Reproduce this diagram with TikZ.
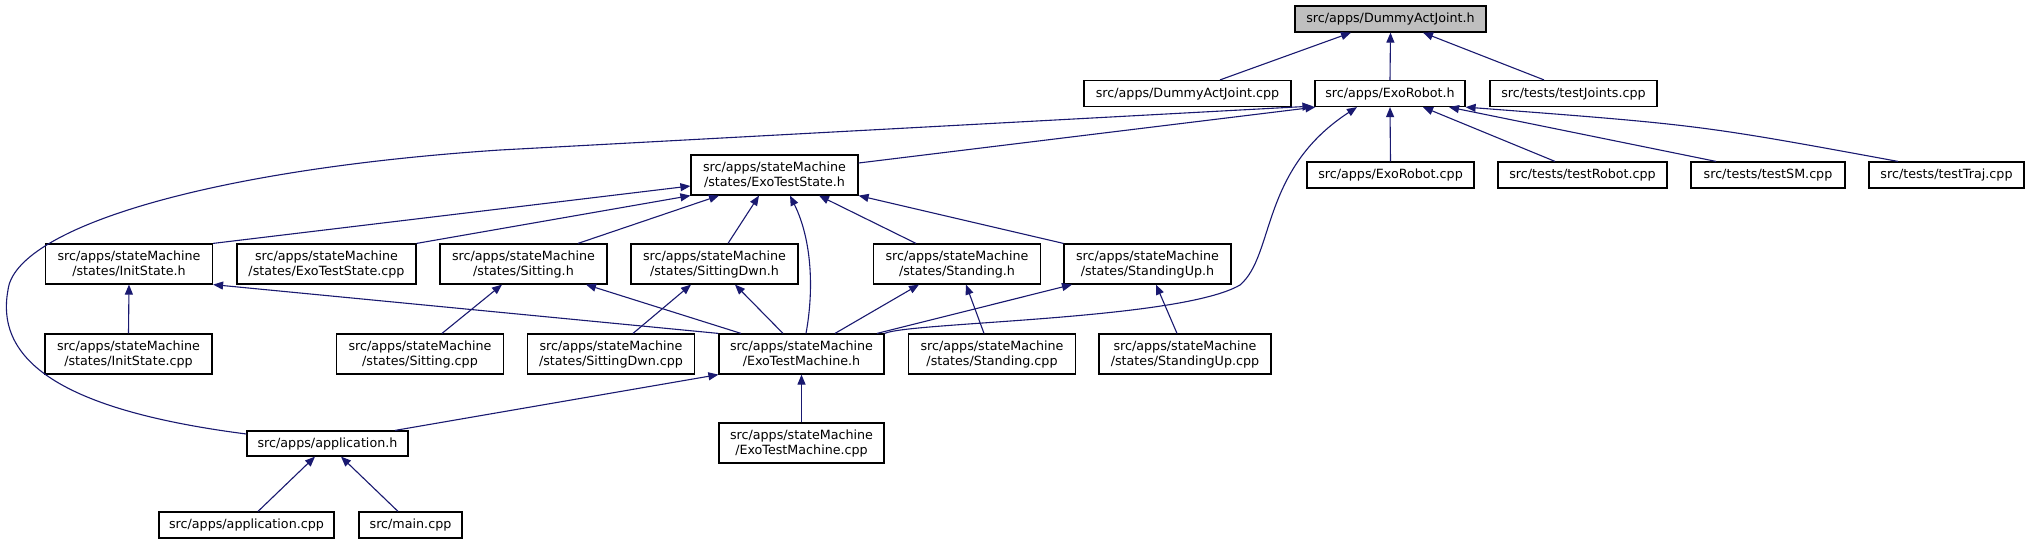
\documentclass[tikz,border=0pt]{standalone}
\usepackage{fontspec}
\setmainfont{DejaVu Sans}
\usetikzlibrary{arrows.meta}
\definecolor{edgeblue}{RGB}{25,25,112}
\definecolor{rootgray}{RGB}{191,191,191}
\begin{document}
\begin{tikzpicture}[x=1pt,y=-1pt,
  box/.style={draw=black, line width=1.2pt, fill=white, rectangle, inner sep=0pt,
    minimum height=26pt, minimum width=#1, align=center,
    font=\fontsize{12.7}{15}\selectfont},
  box/.default=167pt,
  boxtwo/.style={box=#1, minimum height=40pt},
  boxtwo/.default=167pt,
  edge/.style={draw=edgeblue, line width=1.1pt, -{Triangle[length=10pt,width=8pt]}}]
\useasboundingbox[fill=white] (0,0) rectangle (2029,544);

% nodes
\node[box=191pt, fill=rootgray] (dh) at (1390.5,19) {src/apps/DummyActJoint.h};
\node[box=207pt] (dcpp) at (1187.5,93.5) {src/apps/DummyActJoint.cpp};
\node[box=150pt] (er) at (1390,93.5) {src/apps/ExoRobot.h};
\node[box=167pt] (tj) at (1573.5,93.5) {src/tests/testJoints.cpp};
\node[boxtwo] (ets) at (774.5,175) {src/apps/stateMachine\\/states/ExoTestState.h};
\node[box=167pt] (ercpp) at (1390.5,175) {src/apps/ExoRobot.cpp};
\node[box=169pt] (tr) at (1582.5,175) {src/tests/testRobot.cpp};
\node[box=154pt] (tsm) at (1768,175) {src/tests/testSM.cpp};
\node[box=155pt] (tt) at (1946.5,175) {src/tests/testTraj.cpp};

\node[boxtwo] (ish) at (129,264) {src/apps/stateMachine\\/states/InitState.h};
\node[boxtwo=179pt] (etscpp) at (326.5,264) {src/apps/stateMachine\\/states/ExoTestState.cpp};
\node[boxtwo] (sh) at (523.5,264) {src/apps/stateMachine\\/states/Sitting.h};
\node[boxtwo] (sdh) at (714.5,264) {src/apps/stateMachine\\/states/SittingDwn.h};
\node[boxtwo] (stdh) at (957,264) {src/apps/stateMachine\\/states/Standing.h};
\node[boxtwo] (suh) at (1147.5,264) {src/apps/stateMachine\\/states/StandingUp.h};

\node[boxtwo] (iscpp) at (128.5,354) {src/apps/stateMachine\\/states/InitState.cpp};
\node[boxtwo] (scpp) at (420,354) {src/apps/stateMachine\\/states/Sitting.cpp};
\node[boxtwo] (sdcpp) at (611,354) {src/apps/stateMachine\\/states/SittingDwn.cpp};
\node[boxtwo=165pt] (etm) at (801.5,354) {src/apps/stateMachine\\/ExoTestMachine.h};
\node[boxtwo] (stdcpp) at (992,354) {src/apps/stateMachine\\/states/Standing.cpp};
\node[boxtwo=172pt] (sucpp) at (1185,354) {src/apps/stateMachine\\/states/StandingUp.cpp};

\node[box=161pt, minimum height=25pt] (app) at (327.5,443.5) {src/apps/application.h};
\node[boxtwo=165pt] (etmcpp) at (801.5,443) {src/apps/stateMachine\\/ExoTestMachine.cpp};

\node[box=175pt] (appcpp) at (246.5,525) {src/apps/application.cpp};
\node[box=103pt] (main) at (410.5,525) {src/main.cpp};

% edges to DummyActJoint.h
\draw[edge] ([xshift=32.5pt]dcpp.north) -- ([xshift=-39.5pt]dh.south);
\draw[edge] (er.north) -- (dh.south);
\draw[edge] ([xshift=-29.5pt]tj.north) -- ([xshift=32.5pt]dh.south);

% edges to ExoRobot.h
\draw[edge] ([yshift=12pt]ets.east) -- ([xshift=1pt]er.south west);
\draw[edge] ([yshift=9.5pt]app.west) .. controls (60,410) and (-5,360) .. (8,290)
   .. controls (15,230) and (200,170) .. (500,150) -- ([xshift=-2pt,yshift=1pt]er.south west);
\draw[edge] (etm.north east) .. controls (910,322) and (1180,320) .. (1240,285)
   .. controls (1275,255) and (1260,170) .. ([xshift=-33pt]er.south);
\draw[edge] (ercpp.north) -- (er.south);
\draw[edge] ([xshift=-27.5pt]tr.north) -- ([xshift=33pt]er.south);
\draw[edge] ([xshift=-52pt]tsm.north) -- ([xshift=59pt]er.south);
\draw[edge] ([xshift=-48.5pt]tt.north) .. controls (1700,125) .. (er.south east);

% edges to ExoTestState.h
\draw[edge] (ish.north east) -- ([yshift=-11pt]ets.west);
\draw[edge] (etscpp.north east) -- (ets.south west);
\draw[edge] ([xshift=54.5pt]sh.north) -- ([xshift=-55.5pt]ets.south);
\draw[edge] ([xshift=13.5pt]sdh.north) -- ([xshift=-15.5pt]ets.south);
\draw[edge] ([xshift=4.5pt]etm.north) .. controls (814,290) and (812,240) .. ([xshift=15.5pt]ets.south);
\draw[edge] ([xshift=-41pt]stdh.north) -- ([xshift=44.5pt]ets.south);
\draw[edge] (suh.north west) -- (ets.south east);

% edges to state headers
\draw[edge] (iscpp.north) -- (ish.south);
\draw[edge] (etm.north west) -- (ish.south east);
\draw[edge] ([xshift=22pt]scpp.north) -- ([xshift=-21.5pt]sh.south);
\draw[edge] ([xshift=-60.5pt]etm.north) -- ([xshift=62.5pt]sh.south);
\draw[edge] ([xshift=22pt]sdcpp.north) -- ([xshift=-23.5pt]sdh.south);
\draw[edge] ([xshift=-18.5pt]etm.north) -- ([xshift=20.5pt]sdh.south);
\draw[edge] ([xshift=33.5pt]etm.north) -- ([xshift=-38pt]stdh.south);
\draw[edge] ([xshift=-8pt]stdcpp.north) -- ([xshift=9pt]stdh.south);
\draw[edge] ([xshift=75.5pt]etm.north) -- ([xshift=-75.5pt]suh.south);
\draw[edge] ([xshift=-8pt]sucpp.north) -- ([xshift=8.5pt]suh.south);

% edges to ExoTestMachine.h and application.h
\draw[edge] ([xshift=67.5pt]app.north) -- (etm.south west);
\draw[edge] (etmcpp.north) -- (etm.south);
\draw[edge] ([xshift=11.5pt]appcpp.north) -- ([xshift=-12.5pt]app.south);
\draw[edge] ([xshift=-12.5pt]main.north) -- ([xshift=13.5pt]app.south);
\end{tikzpicture}
\end{document}
